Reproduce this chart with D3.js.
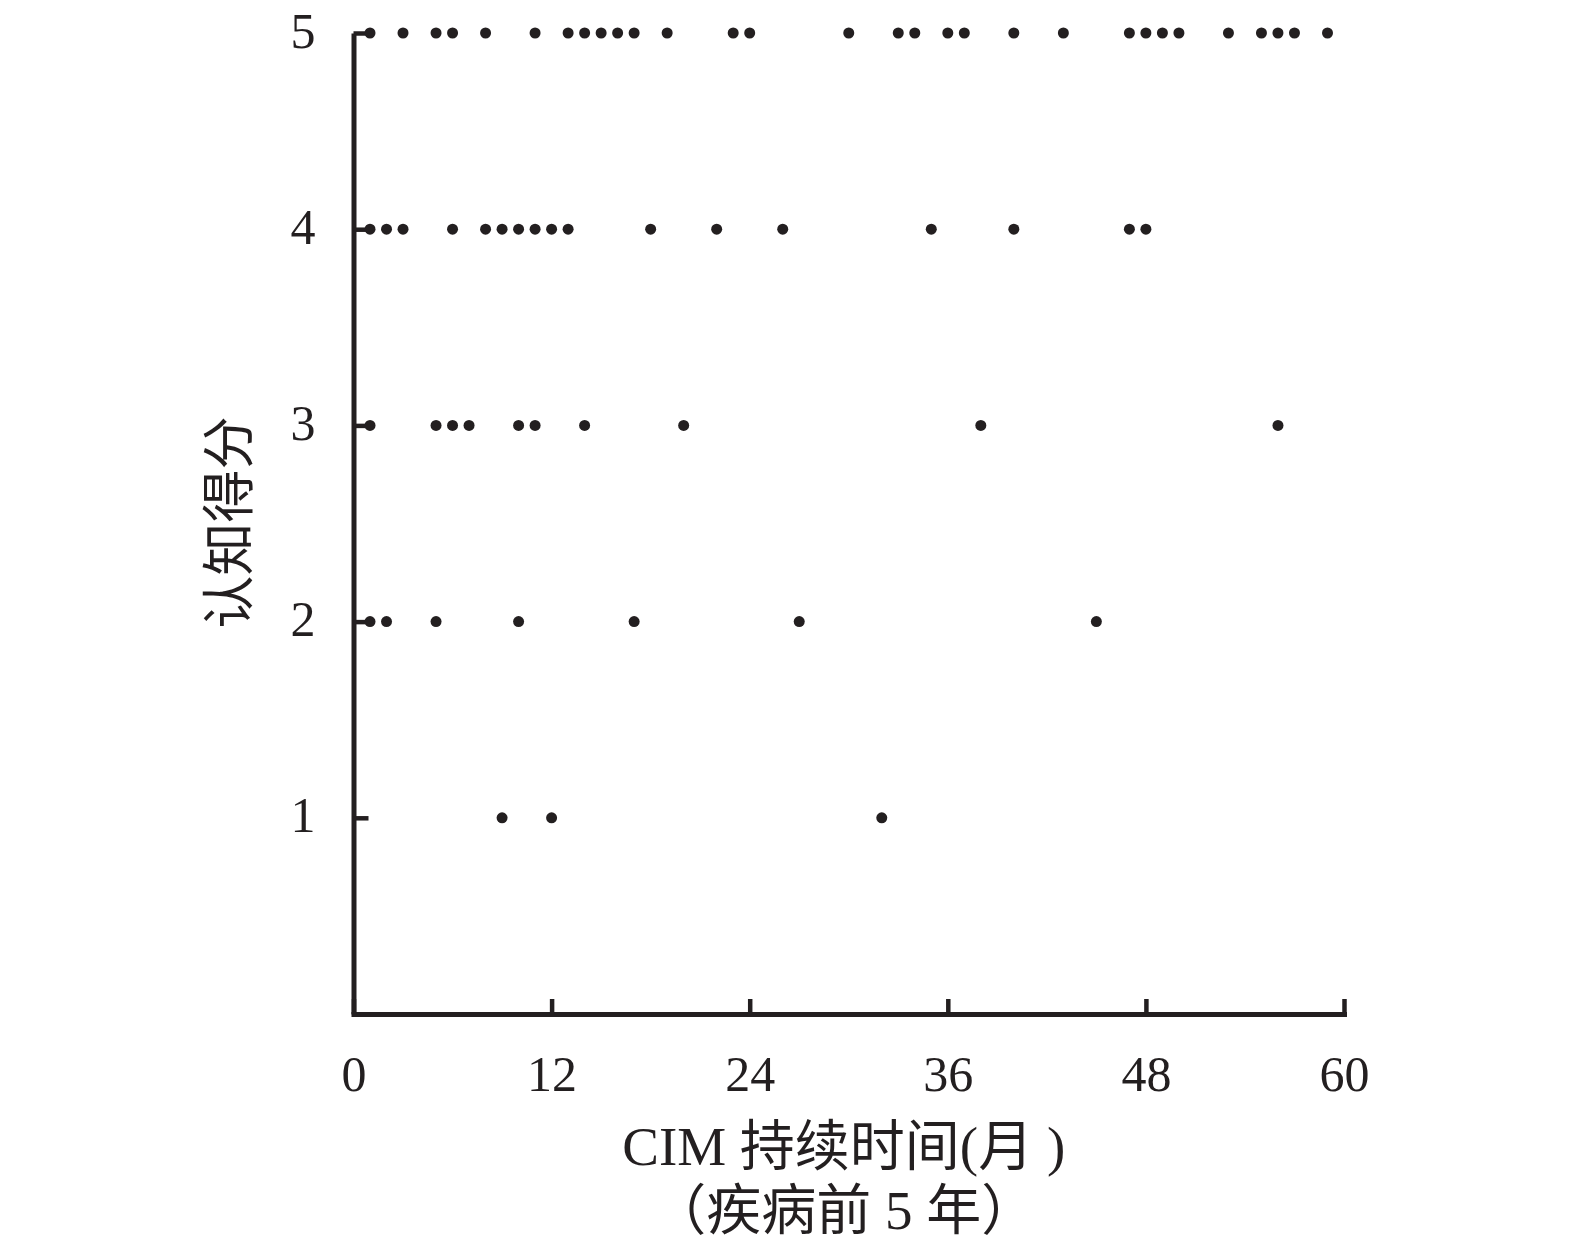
<!DOCTYPE html>
<html>
<head>
<meta charset="utf-8">
<script src="https://cdn.jsdelivr.net/npm/d3@7"></script>
<style>
  html, body { margin: 0; padding: 0; background: #fff; }
  svg { display: block; }
  text { font-family: "Liberation Serif", "Noto Sans CJK SC", serif; fill: #231f20; }
</style>
</head>
<body>
<svg id="chart" width="1575" height="1252"></svg>
<script>
// ---- data ----
const xTicks = [0, 12, 24, 36, 48, 60];
const yTicks = [1, 2, 3, 4, 5];
const score5Months = [1,3,5,6,8,11,13,14,15,16,17,19,23,24,30,33,34,36,37,40,43,47,48,49,50,53,55,56,57,59];
const score4Months = [1,2,3,6,8,9,10,11,12,13,18,22,26,35,40,47,48];
const score3Months = [1,5,6,7,10,11,14,20,38,56];
const score2Months = [1,2,5,10,17,27,45];
const score1Months = [9,12,32];
const xTitle1 = "CIM 持续时间(月 )";
const xTitle2 = "（疾病前 5 年）";
const yTitle = "认知得分";

const points = [];
[[5, score5Months],[4, score4Months],[3, score3Months],[2, score2Months],[1, score1Months]]
  .forEach(([s, arr]) => arr.forEach(m => points.push({month: m, score: s})));

// ---- layout ----
const ink = "#231f20";
const svg = d3.select("#chart");
const x = d3.scaleLinear().domain([0, 60]).range([353.5, 1344]);
const y = d3.scaleLinear().domain([0, 5]).range([1014, 33]);

// y axis
const gy = svg.append("g")
  .attr("transform", `translate(${x(0)},0)`)
  .call(d3.axisLeft(y).tickValues(yTicks).tickSize(-15).tickSizeOuter(0).tickPadding(38).tickFormat(d3.format("d")));
gy.select(".domain").attr("stroke", ink).attr("stroke-width", 5);
gy.selectAll(".tick line").attr("stroke", ink).attr("stroke-width", 4.5);
gy.selectAll(".tick text").attr("font-size", 50).attr("fill", ink).attr("dy", "0.28em")
  .attr("font-family", "Liberation Serif, serif");

// x axis
const gx = svg.append("g")
  .attr("transform", `translate(0,${y(0)})`)
  .call(d3.axisBottom(x).tickValues(xTicks).tickSize(-15).tickSizeOuter(0).tickPadding(41).tickFormat(d3.format("d")));
gx.select(".domain").attr("stroke", ink).attr("stroke-width", 5).attr("stroke-linecap", "square");
gx.selectAll(".tick line").attr("stroke", ink).attr("stroke-width", 4.5);
gx.selectAll(".tick text").attr("font-size", 50).attr("fill", ink)
  .attr("font-family", "Liberation Serif, serif");

// dots
svg.append("g").selectAll("circle").data(points).join("circle")
  .attr("cx", d => x(d.month))
  .attr("cy", d => y(d.score))
  .attr("r", 5.5)
  .attr("fill", ink);

// titles
svg.append("text")
  .attr("x", (x(0) + x(60)) / 2 - 5)
  .attr("y", 1165)
  .attr("text-anchor", "middle")
  .attr("font-size", 55)
  .text(xTitle1);
svg.append("text")
  .attr("x", (x(0) + x(60)) / 2 - 5)
  .attr("y", 1229)
  .attr("text-anchor", "middle")
  .attr("font-size", 55)
  .text(xTitle2);
svg.append("text")
  .attr("transform", `translate(248,${(y(0) + y(5)) / 2 - 1}) rotate(-90)`)
  .attr("text-anchor", "middle")
  .attr("font-size", 53)
  .text(yTitle);
</script>
</body>
</html>
